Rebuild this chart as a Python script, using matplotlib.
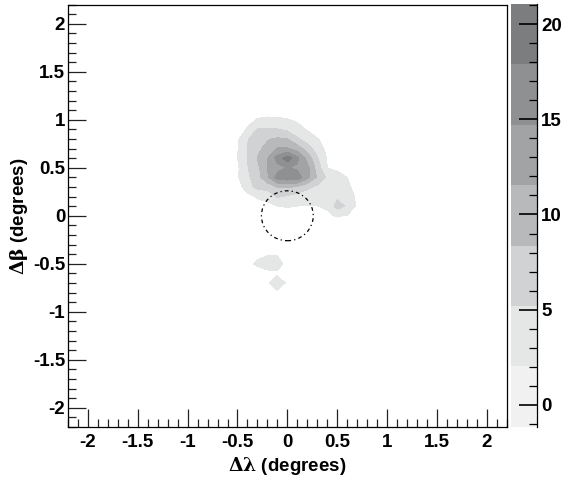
import numpy as np
import matplotlib
matplotlib.use("Agg")
import matplotlib.pyplot as plt
from matplotlib.colors import ListedColormap
from matplotlib.patches import Circle
from matplotlib.ticker import MultipleLocator

plt.rcParams['font.family'] = ['Liberation Sans', 'DejaVu Sans']
plt.rcParams['font.weight'] = 'bold'
plt.rcParams['mathtext.fontset'] = 'dejavuserif'

# bin centres of the sky map (degrees)
X_CENTERS = np.round(np.arange(-0.6, 0.81, 0.1), 2)
Y_CENTERS = np.round(np.arange(1.1, -0.91, -0.1), 2)

# counts per bin, rows from top (dbeta = 1.1) to bottom (dbeta = -0.9)
COUNTS = [
    [0, 0, 0,   0.3, 0.6, 0.5, 0.3, 0,   0,   0,   0,   0,   0,   0,   0],
    [0, 0, 1.0, 2.3, 2.6, 2.5, 2.2, 1.6, 0.8, 0,   0,   0,   0,   0,   0],
    [0, 0.5, 2.3, 5.4, 5.6, 5.3, 4.5, 3.0, 1.8, 0.5, 0, 0,   0,   0,   0],
    [0, 1.5, 5.0, 6.5, 8.0, 8.8, 8.4, 5.6, 3.5, 2.2, 0.8, 0, 0,   0,   0],
    [0, 1.8, 5.3, 7.5, 9.5, 11.7, 11.8, 10.0, 7.0, 3.5, 1.2, 0, 0, 0,  0],
    [0.5, 2.0, 5.3, 8.5, 11.3, 16.0, 19.5, 15.5, 10.5, 5.5, 1.8, 0.5, 0, 0, 0],
    [0.3, 1.5, 5.0, 7.5, 11.6, 13.5, 15.0, 14.0, 12.5, 7.0, 2.0, 1.5, 0.8, 0, 0],
    [0, 1.6, 4.5, 7.0, 10.8, 16.0, 17.0, 16.5, 12.5, 8.0, 4.5, 3.0, 2.0, 0.8, 0],
    [0, 0.3, 4.0, 6.0, 6.5, 8.6, 8.8, 8.0, 6.0, 4.5, 3.5, 3.0, 2.6, 1.0, 0],
    [0, 0, 1.0, 2.5, 3.0, 5.5, 4.8, 3.8, 3.2, 2.8, 2.5, 4.5, 3.5, 1.5, 0],
    [0, 0, 0,   0.3, 1.2, 2.0, 2.2, 2.0, 2.0, 2.0, 2.4, 6.5, 4.8, 1.5, 0],
    [0, 0, 0,   0,   0.3, 0.8, 1.0, 1.0, 1.0, 1.2, 1.5, 2.3, 1.8, 0.8, 0],
    [0, 0, 0,   0,   0,   0.3, 0.3, 0.3, 0,   0,   0,   0.3, 0,   0,   0],
    [0, 0, 0,   0,   0,   0,   0,   0,   0,   0,   0,   0,   0,   0,   0],
    [0, 0, 0,   0,   0,   0,   0,   0,   0,   0,   0,   0,   0,   0,   0],
    [0, 0, 0,   1.5, 1.9, 1.9, 1.0, 0,   0,   0,   0,   0,   0,   0,   0],
    [0, 0, 1.5, 2.4, 2.8, 2.6, 1.5, 0,   0,   0,   0,   0,   0,   0,   0],
    [0, 0, 0.5, 1.0, 1.6, 1.8, 1.0, 0,   0,   0,   0,   0,   0,   0,   0],
    [0, 0, 0,   0.5, 1.8, 2.8, 1.8, 0,   0,   0,   0,   0,   0,   0,   0],
    [0, 0, 0,   0,   0.8, 1.8, 0.8, 0,   0,   0,   0,   0,   0,   0,   0],
    [0, 0, 0,   0,   0,   0,   0,   0,   0,   0,   0,   0,   0,   0,   0],
]

LEVELS = np.linspace(-1.14, 21.05, 8)
COLORS = ['#f1f1f1', '#e5e6e6', '#d1d2d3', '#b8b9bb', '#a2a3a5', '#8f9092', '#7c7d7f']
CBAR_TICKS = [0, 5, 10, 15, 20]
SOURCE_RADIUS = 0.26

fig = plt.figure(figsize=(5.62, 4.84), dpi=100)
ax = fig.add_axes([68/562, 1-427/484, (506.7-68)/562, (427-4.5)/484])
cax = fig.add_axes([510.7/562, 1-426.7/484, (537-510.7)/562, (426.7-4)/484])

xx, yy = np.meshgrid(X_CENTERS, Y_CENTERS)
ax.contourf(xx, yy, np.array(COUNTS), levels=LEVELS[1:], colors=COLORS[1:])
ax.add_patch(Circle((0, 0), SOURCE_RADIUS, fill=False, ec='black', lw=0.9,
                    ls=(0, (3, 2.5, 1, 2.5))))

ax.set_xlim(-2.2, 2.2)
ax.set_ylim(-2.2, 2.2)
ax.xaxis.set_major_locator(MultipleLocator(0.5))
ax.xaxis.set_minor_locator(MultipleLocator(0.1))
ax.yaxis.set_major_locator(MultipleLocator(0.5))
ax.yaxis.set_minor_locator(MultipleLocator(0.1))
ax.xaxis.set_major_formatter(plt.FuncFormatter(lambda v, p: f'{v:g}'))
ax.yaxis.set_major_formatter(plt.FuncFormatter(lambda v, p: f'{v:g}'))
ax.tick_params(which='both', direction='in', labelsize=13.5, width=0.9, color='#222222')
ax.tick_params(which='major', length=13)
ax.tick_params(which='minor', length=6)
ax.tick_params(axis='x', pad=5)
ax.tick_params(axis='y', pad=2)
for s in ax.spines.values():
    s.set_linewidth(0.9)
ax.set_xlabel(r'$\mathrm{\Delta\lambda}$ (degrees)', fontsize=13.5, fontweight='bold', labelpad=3)
ax.set_ylabel(r'$\mathrm{\Delta\beta}$ (degrees)', fontsize=13.5, fontweight='bold', labelpad=2)

# colour scale
cax.pcolormesh([0, 1], LEVELS, np.arange(7).reshape(7, 1), cmap=ListedColormap(COLORS))
cax.set_ylim(LEVELS[0], LEVELS[-1])
cax.set_xlim(0, 1)
cax.set_xticks([])
for side in ['left', 'top', 'bottom']:
    cax.spines[side].set_visible(False)
cax.spines['right'].set_linewidth(0.9)
cax.yaxis.tick_right()
cax.set_yticks(CBAR_TICKS)
cax.yaxis.set_minor_locator(MultipleLocator(1))
cax.tick_params(which='both', direction='in', labelsize=13.5, width=0.9, pad=3)
cax.tick_params(which='major', length=13, width=1.2)
cax.tick_params(which='minor', length=6)

fig.savefig('out.png', dpi=100)
